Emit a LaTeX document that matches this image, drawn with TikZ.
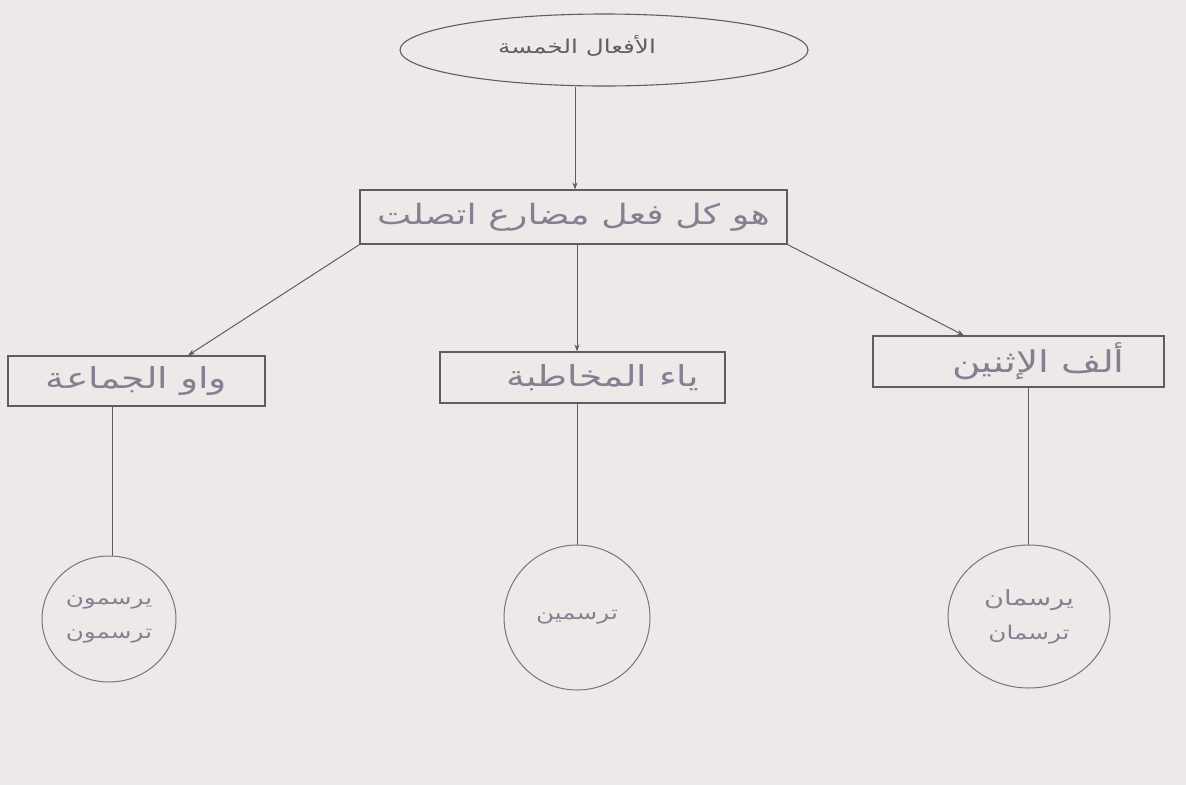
\documentclass[tikz,border=0pt]{standalone}
\usepackage{fontspec}
\usetikzlibrary{shapes.geometric,arrows.meta}
\TeXXeTstate=1
\newfontfamily\arabicfont[Script=Arabic,FakeStretch=1.3]{DejaVu Sans}
\newfontfamily\handfont[Script=Arabic,FakeStretch=1.3]{DejaVu Sans}
\definecolor{paper}{RGB}{238,233,233}
\definecolor{ink}{RGB}{95,92,98}
\definecolor{pen}{RGB}{135,127,145}
\tikzset{
  boxnode/.style={draw=ink,line width=1.1pt,rectangle,inner sep=0pt,text=pen,font=\handfont\fontsize{29}{32}\selectfont},
  circnode/.style={draw=ink!85,line width=1pt,ellipse,inner sep=0pt,text=pen,align=center,font=\handfont\fontsize{19}{34}\selectfont},
  arr/.style={draw=ink,line width=1pt,-{Stealth[length=7pt,width=5pt]}},
  ln/.style={draw=ink,line width=1pt}
}
\begin{document}
\begin{tikzpicture}[x=1pt,y=-1pt]
\fill[paper] (0,0) rectangle (1186,785);
\useasboundingbox (0,0) rectangle (1186,785);
\node[draw=ink,line width=1.1pt,ellipse,minimum width=408pt,minimum height=72pt,inner sep=0pt] (top) at (604,50) {};
\node[text=ink,font=\arabicfont\fontsize{19}{22}\selectfont] (toptxt) at (577,46) {\beginR الأفعال الخمسة\endR};
\node[boxnode,minimum width=427pt,minimum height=54pt] (def) at (573.5,217) {\fontsize{28}{32}\selectfont\beginR هو كل فعل مضارع اتصلت\endR};
\node[boxnode,minimum width=257pt,minimum height=50pt] (waw) at (136.5,381) {\beginR واو الجماعة\endR};
\node[boxnode,minimum width=285pt,minimum height=51pt] (ya) at (582.5,377.5) {\hspace*{40pt}\beginR ياء المخاطبة\endR};
\node[boxnode,minimum width=291pt,minimum height=51pt] (alif) at (1018.5,361.5) {\hspace*{40pt}\fontsize{30}{32}\selectfont\beginR ألف الإثنين\endR};
\node[circnode,minimum width=134pt,minimum height=126pt] (c1) at (109,619) {\beginR يرسمون\endR\\\beginR ترسمون\endR};
\node[circnode,minimum width=146pt,minimum height=145pt] (c2) at (577,617.5) {\beginR ترسمين\endR};
\node[circnode,minimum width=162pt,minimum height=143pt] (c3) at (1029,616.5) {\fontsize{21}{36}\selectfont\beginR يرسمان\endR\\\beginR ترسمان\endR};
\draw[arr] (top.south -| 575,0) -- (def.north -| 575,0);
\draw[arr] (def.south west) -- (waw.north -| 188,0);
\draw[arr] (def.south -| 577,0) -- (ya.north -| 577,0);
\draw[arr] (def.south east) -- (alif.north -| 964,0);
\draw[ln] (waw.south -| 112,0) -- (c1.north -| 112,0);
\draw[ln] (ya.south -| 577,0) -- (c2.north);
\draw[ln] (alif.south -| 1028,0) -- (c3.north -| 1028,0);
\end{tikzpicture}
\end{document}
